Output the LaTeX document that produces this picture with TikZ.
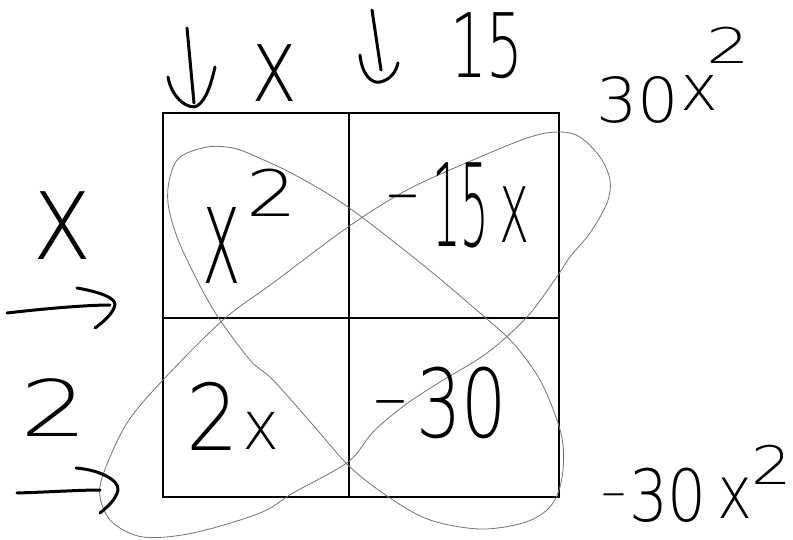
\documentclass[tikz,border=0pt]{standalone}
\usepackage{fontspec}
\usepackage{graphicx}
\newfontfamily\hand{DejaVu Sans}[UprightFont={* ExtraLight}]
\newcommand\fs[1]{\fontsize{#1}{#1}\selectfont}
\newcommand\hx[2]{\scalebox{#1}[1]{#2}}
\begin{document}
\begin{tikzpicture}[x=1pt,y=-1pt,
  hw/.style={inner sep=0pt, font=\hand},
  gridline/.style={line width=1.8pt, line cap=rect},
  loopline/.style={black!55, line width=0.8pt},
  pen/.style={line width=3pt, line cap=round, line join=round}]
\useasboundingbox (0,0) rectangle (793,540);
\fill[white] (0,0) rectangle (793,540);
% grid
\coordinate (tl) at (163,113); \coordinate (br) at (559,497);
\coordinate (mt) at (349,113); \coordinate (mb) at (349,497);
\coordinate (ml) at (163,318); \coordinate (mr) at (559,318);
\draw[gridline] (tl) rectangle (br);
\draw[gridline] (mt) -- (mb);
\draw[gridline] (ml) -- (mr);
% loop A (top-left to bottom-right)
\draw[loopline] plot[smooth cycle, tension=0.55] coordinates {
 (170,177) (180,157) (207,147) (233,148) (257,157) (295,175) (348,207) (423,265)
 (480,313) (513,343) (540,380) (557,420) (563,445) (563,470) (558,493) (547,510)
 (523,523) (480,529) (430,520) (390,498) (350,467) (313,425) (273,380) (250,360)
 (218,317) (197,280) (177,237) (168,203)};
% loop B (bottom-left to top-right)
\draw[loopline] plot[smooth cycle, tension=0.55] coordinates {
 (163,380) (223,320) (273,283) (348,227) (407,190) (473,160) (530,137) (560,132)
 (580,137) (600,157) (610,180) (607,203) (590,233) (570,257) (556,278) (527,317)
 (487,353) (440,382) (405,405) (373,432) (348,462) (293,493) (260,513) (193,533)
 (143,537) (112,522) (100,497) (104,472) (127,423)};
% arrows
\draw[pen] (187,28) .. controls (190,60) .. (194,103);
\draw[pen] (168,77) .. controls (172,100) and (190,110) .. (197,106) .. controls (207,100) and (212,80) .. (215,67);
\draw[pen] (372,10) .. controls (376,40) .. (381,70);
\draw[pen] (360,55) .. controls (362,75) and (372,84) .. (380,82) .. controls (390,80) and (396,72) .. (398,63);
\draw[pen] (7,313) .. controls (50,308) and (90,305) .. (110,305);
\draw[pen] (77,288) .. controls (100,292) and (116,298) .. (115,305) .. controls (113,314) and (102,323) .. (95,328);
\draw[pen] (17,493) .. controls (50,492) and (80,490) .. (100,490);
\draw[pen] (76,468) .. controls (100,470) and (119,480) .. (118,490) .. controls (116,500) and (106,508) .. (100,513);
% labels outside
\node[hw] (topx) at (275,73) {\fs{104}\hx{0.75}{x}};
\node[hw] (top15) at (487,46) {\fs{89}\hx{0.65}{15}};
\node[hw] (leftx) at (63,226) {\fs{124}\hx{0.82}{x}};
\node[hw] (left2) at (54,408) {\fs{78}\hx{1.36}{2}};
% cell texts
\node[hw] (cx) at (222,245) {\fs{139}\hx{0.47}{x}};
\node[hw] (cxsup) at (272,193) {\fs{64}\hx{1.25}{2}};
\node[hw, anchor=base] (dashA) at (403,215) {\fs{66}–};
\node[hw] (c15) at (461,205) {\fs{115}\hx{0.39}{15}};
\node[hw] (c15x) at (515,215) {\fs{102}\hx{0.5}{x}};
\node[hw] (c2) at (213,416) {\fs{92}\hx{0.9}{2}};
\node[hw] (c2x) at (261,431) {\fs{68}\hx{0.92}{x}};
\node[hw, anchor=base] (dashB) at (390,420) {\fs{68}–};
\node[hw] (c30) at (462,403) {\fs{95}\hx{0.75}{30}};
% products
\node[hw] (p30) at (638,100) {\fs{62}\hx{1.05}{30}};
\node[hw] (px) at (699,93) {\fs{64}x};
\node[hw] (p2) at (728,45) {\fs{49}\hx{1.4}{2}};
\node[hw, anchor=base] (dashC) at (614,508) {\fs{50}–};
\node[hw] (q30) at (668,495) {\fs{72}\hx{0.85}{30}};
\node[hw] (qx) at (735,498) {\fs{74}\hx{0.8}{x}};
\node[hw] (q2) at (772,465) {\fs{53}\hx{1.2}{2}};
\end{tikzpicture}
\end{document}
